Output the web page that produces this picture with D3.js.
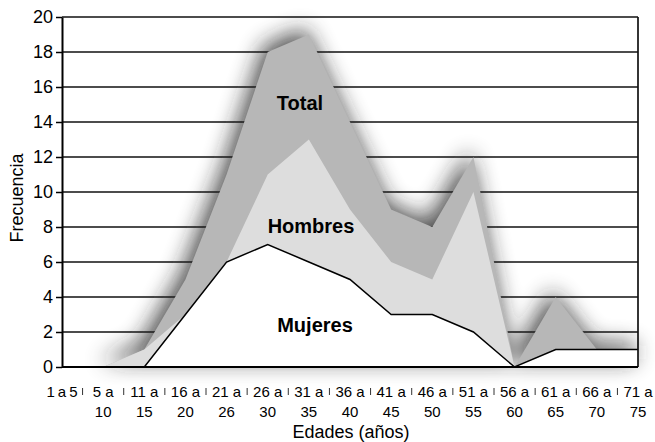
<!DOCTYPE html>
<html>
<head>
<meta charset="utf-8">
<script src="https://cdn.jsdelivr.net/npm/d3@7"></script>
<style>
  body { margin: 0; background: #fff; }
  text { font-family: "Liberation Sans", Arial, sans-serif; }
</style>
</head>
<body>
<script>
var w = 655;
var h = 442;

// categories (two text lines per tick)
var categories = ["1 a 5", "5 a 10", "11 a 15", "16 a 20", "21 a 26", "26 a 30", "31 a 35",
  "36 a 40", "41 a 45", "46 a 50", "51 a 55", "56 a 60", "61 a 65", "66 a 70", "71 a 75"];
var labelLine1 = ["1 a 5", "5 a", "11 a", "16 a", "21 a", "26 a", "31 a", "36 a", "41 a",
  "46 a", "51 a", "56 a", "61 a", "66 a", "71 a"];
var labelLine2 = ["", "10", "15", "20", "26", "30", "35", "40", "45", "50", "55", "60", "65", "70", "75"];

var total   = [0, 0, 1, 5, 11, 18, 19, 14, 9, 8, 12, 0, 4, 1, 1];
var hombres = [0, 0, 1, 3, 6, 11, 13, 9, 6, 5, 10, 0, 0, 0, 0];
var mujeres = [0, 0, 0, 3, 6, 7, 6, 5, 3, 3, 2, 0, 1, 1, 1];

var yTicks = [0, 2, 4, 6, 8, 10, 12, 14, 16, 18, 20];

var plotL = 62, plotR = 638, plotT = 17, plotB = 367;

var svg = d3.select("body").append("svg")
    .attr("width", w)
    .attr("height", h);

var x = d3.scalePoint().domain(categories).range([plotL, plotR]);
var y = d3.scaleLinear().domain([0, 20]).range([plotB, plotT]);

var defs = svg.append("defs");
defs.append("filter")
    .attr("id", "blur")
    .attr("x", "-20%").attr("y", "-20%")
    .attr("width", "140%").attr("height", "140%")
    .append("feGaussianBlur")
    .attr("stdDeviation", 11);

function areaOf(values) {
  return d3.area()
      .x(function(d, i) { return x(categories[i]); })
      .y0(y(0))
      .y1(function(d) { return y(d); })(values);
}

//gridlines
svg.append("g")
    .selectAll("line")
    .data(yTicks)
    .enter()
    .append("line")
    .attr("x1", plotL)
    .attr("x2", plotR)
    .attr("y1", function(d) { return y(d); })
    .attr("y2", function(d) { return y(d); })
    .style("stroke", "#111")
    .style("stroke-width", 1.7);

// soft shadow behind the total area
svg.append("path")
    .attr("d", areaOf(total))
    .attr("transform", "translate(-4,-6)")
    .attr("filter", "url(#blur)")
    .style("fill", "#222")
    .style("opacity", 0.8);

svg.append("path")
    .attr("d", areaOf(total))
    .style("fill", "#b7b7b7");

svg.append("path")
    .attr("d", areaOf(hombres))
    .style("fill", "#dddddd");

svg.append("path")
    .attr("d", areaOf(mujeres))
    .style("fill", "#fff");

svg.append("path")
    .attr("d", d3.line()
      .x(function(d, i) { return x(categories[i]); })
      .y(function(d) { return y(d); })(mujeres))
    .style("fill", "none")
    .style("stroke", "#000")
    .style("stroke-width", 1.5)
    .style("stroke-linejoin", "miter");

// frame: right border and baseline
svg.append("line")
    .attr("x1", plotR).attr("x2", plotR)
    .attr("y1", y(20)).attr("y2", y(0))
    .style("stroke", "#111").style("stroke-width", 1.7);
svg.append("line")
    .attr("x1", plotL).attr("x2", plotR)
    .attr("y1", y(0)).attr("y2", y(0))
    .style("stroke", "#000").style("stroke-width", 2);

// y axis
var yAxis = svg.append("g")
    .attr("transform", "translate(" + plotL + ",0)")
    .call(d3.axisLeft(y).tickValues(yTicks).tickSize(6).tickPadding(3).tickSizeOuter(0));
yAxis.select(".domain").style("stroke", "#000").style("stroke-width", 2);
yAxis.selectAll(".tick line").style("stroke", "#000").style("stroke-width", 1.5);
yAxis.selectAll("text")
    .style("font-size", "18px")
    .style("font-family", "'Liberation Sans', Arial, sans-serif")
    .attr("fill", "#000");

// x tick marks between categories
var step = x.step();
svg.append("g")
    .selectAll("line")
    .data(categories.slice(0, -1))
    .enter()
    .append("line")
    .attr("x1", function(d) { return x(d) + step / 2; })
    .attr("x2", function(d) { return x(d) + step / 2; })
    .attr("y1", 388)
    .attr("y2", 395)
    .style("stroke", "#333")
    .style("stroke-width", 1);

// x labels
var xl = svg.append("g")
    .selectAll("text")
    .data(categories)
    .enter()
    .append("text")
    .attr("text-anchor", "middle")
    .style("font-size", "15px")
    .attr("fill", "#000");
xl.append("tspan")
    .attr("x", function(d) { return x(d); })
    .attr("y", 397)
    .attr("textLength", function(d, i) { return i === 0 ? 31 : null; })
    .text(function(d, i) { return labelLine1[i]; });
xl.append("tspan")
    .attr("x", function(d) { return x(d); })
    .attr("y", 417)
    .text(function(d, i) { return labelLine2[i]; });

// axis titles
svg.append("text")
    .attr("x", 351)
    .attr("y", 438)
    .attr("text-anchor", "middle")
    .style("font-size", "18px")
    .text("Edades (años)");

svg.append("text")
    .attr("transform", "translate(23,198) rotate(-90)")
    .attr("text-anchor", "middle")
    .style("font-size", "18px")
    .text("Frecuencia");

// series labels
var seriesLabels = [
  {name: "Total", cx: 300, cy: 110},
  {name: "Hombres", cx: 311, cy: 233},
  {name: "Mujeres", cx: 315, cy: 332}
];
svg.append("g")
    .selectAll("text")
    .data(seriesLabels)
    .enter()
    .append("text")
    .attr("x", function(d) { return d.cx; })
    .attr("y", function(d) { return d.cy; })
    .attr("text-anchor", "middle")
    .style("font-size", "20px")
    .style("font-weight", "bold")
    .text(function(d) { return d.name; });
</script>
</body>
</html>
